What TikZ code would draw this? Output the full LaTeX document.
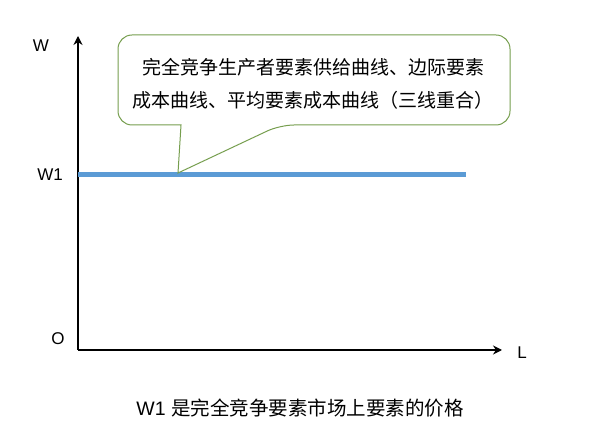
\documentclass[tikz,border=0pt]{standalone}
\usepackage{fontspec}
\setmainfont{Liberation Sans}
\newfontfamily\cjk{Noto Sans CJK SC}
\usetikzlibrary{arrows.meta,positioning}
\definecolor{wline}{RGB}{91,155,213}
\definecolor{callgreen}{RGB}{118,158,78}
\tikzset{axis/.style={line width=2pt,-{Stealth[length=9pt,width=9pt]}},
  lbl/.style={font=\fontsize{17}{19}\selectfont},
  calltext/.style={font=\cjk\fontsize{19}{33}\selectfont,align=center}}
\begin{document}
\begin{tikzpicture}[x=1pt,y=-1pt]
  \useasboundingbox (0,0) rectangle (600,435);
  \coordinate (origin) at (78,350);
  \coordinate (ytop) at (78,36);
  \coordinate (xend) at (502,350);
  \draw[axis] (origin) -- (ytop);
  \draw[axis] (origin) -- (xend);

  \node[lbl] (w) at (41,46) {W};
  \node[lbl] (w1) at (50,175) {W1};
  \node[lbl] (o) at (58,339) {O};
  \node[lbl] (l) at (522,353) {L};

  \coordinate (w1start) at (78,175);
  \coordinate (w1end) at (466,175);
  \draw[wline,line width=5pt] (w1start) -- (w1end);

  % callout
  \coordinate (tip) at (178,173);
  \draw[callgreen,fill=white,line width=1pt,rounded corners=14pt]
    (118,35) -- (510,35) -- (510,125) -- (280,125) [sharp corners] -- (tip) -- (181,125)
    [rounded corners=14pt] -- (118,125) -- cycle;
  \node[calltext] (calltxt) at (313,84) {完全竞争生产者要素供给曲线、边际要素\\成本曲线、平均要素成本曲线（三线重合）};

  \node[font=\fontsize{19.5}{22}\selectfont] (caption) at (300,408) {W1 {\cjk 是完全竞争要素市场上要素的价格}};
\end{tikzpicture}
\end{document}
